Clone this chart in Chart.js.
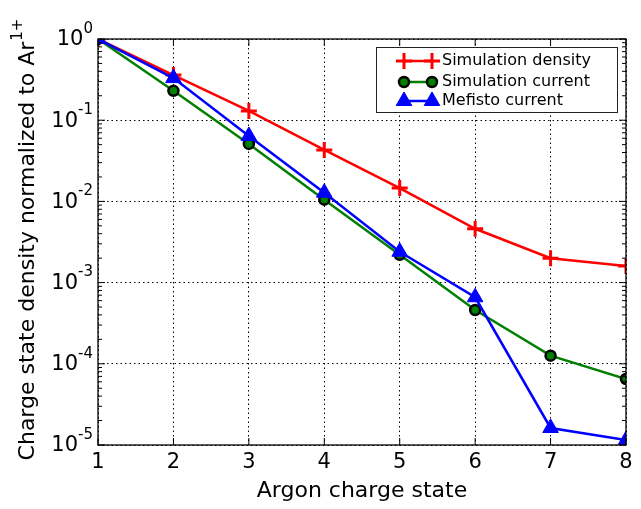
<!DOCTYPE html>
<html>
<head>
<meta charset="utf-8">
<script src="https://cdn.jsdelivr.net/npm/chart.js@4"></script>
<style>
  html, body { margin: 0; padding: 0; background: #fff; }
  #wrap { width: 641px; height: 509px; }
</style>
</head>
<body>
<div id="wrap"><canvas id="chart" width="641" height="509"></canvas></div>
<script>
// Données
const chargeStates = [1, 2, 3, 4, 5, 6, 7, 8];
const simDensity = [1, 0.36, 0.13, 0.043, 0.0146, 0.0046, 0.0020, 0.0016];
const simCurrent = [1, 0.23, 0.051, 0.0105, 0.0022, 0.00046, 0.000126, 0.000065];
const mefistoCurrent = [1, 0.33, 0.064, 0.0128, 0.0024, 0.00066, 0.0000162, 0.0000115];
const yDecades = [-5, -4, -3, -2, -1, 0];
const seriesNames = ['Simulation density', 'Simulation current', 'Mefisto current'];
const yTitle = 'Charge state density normalized to Ar';
const yTitleSup = '1+';

const FONT = "'DejaVu Sans', sans-serif";

function decadeOf(v) {
    const e = Math.round(Math.log10(v));
    return Math.abs(Math.pow(10, e) - v) < Math.pow(10, e) * 1e-6 ? e : null;
}

/**
 * Cadre noir et graduations intérieures (style matplotlib)
 */
const framePlugin = {
    id: 'frame',
    afterDraw(chart) {
        const { ctx, chartArea: a, scales } = chart;
        ctx.save();
        ctx.strokeStyle = '#000';
        ctx.lineWidth = 1.3;
        ctx.strokeRect(a.left, a.top, a.right - a.left, a.bottom - a.top);

        ctx.lineWidth = 1;
        ctx.beginPath();
        // graduations x
        chargeStates.forEach(v => {
            const x = scales.x.getPixelForValue(v);
            ctx.moveTo(x, a.bottom); ctx.lineTo(x, a.bottom - 7);
            ctx.moveTo(x, a.top); ctx.lineTo(x, a.top + 7);
        });
        // graduations y (majeures et mineures)
        yDecades.forEach(e => {
            for (let m = 1; m <= 9; m++) {
                const v = m * Math.pow(10, e);
                if (v > 1) break;
                const y = scales.y.getPixelForValue(v);
                const len = m === 1 ? 7 : 4;
                ctx.moveTo(a.left, y); ctx.lineTo(a.left + len, y);
                ctx.moveTo(a.right, y); ctx.lineTo(a.right - len, y);
            }
        });
        ctx.stroke();
        ctx.restore();
    }
};

/**
 * Étiquettes 10^n et titre de l'axe y avec vrais exposants
 */
const yLabelsPlugin = {
    id: 'yLabels',
    afterDraw(chart) {
        const { ctx, chartArea: a, scales } = chart;
        ctx.save();
        ctx.fillStyle = '#000';
        ctx.textBaseline = 'middle';
        yDecades.forEach(e => {
            const y = scales.y.getPixelForValue(Math.pow(10, e));
            const exp = String(e);
            ctx.font = '15px ' + FONT;
            const expW = ctx.measureText(exp).width;
            const right = a.left - 5;
            ctx.textAlign = 'left';
            ctx.fillText(exp, right - expW, y - 10);
            ctx.font = '21px ' + FONT;
            ctx.textAlign = 'right';
            ctx.fillText('10', right - expW, y + 1);
        });

        // titre vertical
        ctx.translate(28, (a.top + a.bottom) / 2 - 2);
        ctx.rotate(-Math.PI / 2);
        ctx.font = '22px ' + FONT;
        const mainW = ctx.measureText(yTitle).width;
        ctx.font = '15px ' + FONT;
        const supW = ctx.measureText(yTitleSup).width;
        const start = -(mainW + supW) / 2;
        ctx.textAlign = 'left';
        ctx.font = '22px ' + FONT;
        ctx.fillText(yTitle, start, 0);
        ctx.font = '15px ' + FONT;
        ctx.fillText(yTitleSup, start + mainW + 1, -10);
        ctx.restore();
    }
};

function drawMarker(ctx, ds, x, y) {
    ctx.save();
    ctx.fillStyle = ds.pointBackgroundColor;
    ctx.strokeStyle = ds.pointBorderColor;
    ctx.lineWidth = ds.pointBorderWidth;
    Chart.helpers.drawPoint(ctx, {
        pointStyle: ds.pointStyle,
        radius: ds.pointRadius,
        borderWidth: ds.pointBorderWidth,
        rotation: 0
    }, x, y);
    ctx.restore();
}

/**
 * Légende dessinée à la main (ligne + deux marqueurs)
 */
const legendPlugin = {
    id: 'mplLegend',
    afterDraw(chart) {
        const { ctx } = chart;
        const box = { x: 376, y: 47, w: 241, h: 65 };
        ctx.save();
        ctx.fillStyle = '#fff';
        ctx.fillRect(box.x, box.y, box.w, box.h);
        ctx.strokeStyle = '#222';
        ctx.lineWidth = 1;
        ctx.strokeRect(box.x + 0.5, box.y + 0.5, box.w, box.h);

        const rows = [61, 82, 101];
        const x1 = 404, x2 = 432;
        const datasets = chart.data.datasets;
        const order = [2, 1, 0]; // densité, courant sim, mefisto
        rows.forEach((y, i) => {
            const ds = datasets[order[i]];
            ctx.strokeStyle = ds.borderColor;
            ctx.lineWidth = ds.borderWidth;
            ctx.beginPath();
            ctx.moveTo(x1, y); ctx.lineTo(x2, y);
            ctx.stroke();
            drawMarker(ctx, ds, x1, y);
            drawMarker(ctx, ds, x2, y);
            ctx.fillStyle = '#000';
            ctx.font = '16px ' + FONT;
            ctx.textAlign = 'left';
            ctx.textBaseline = 'middle';
            ctx.fillText(seriesNames[i], 442, y);
        });
        ctx.restore();
    }
};

const ctx = document.getElementById('chart');

new Chart(ctx, {
    type: 'line',
    data: {
        datasets: [
            {
                label: seriesNames[2],
                data: chargeStates.map((c, i) => ({ x: c, y: mefistoCurrent[i] })),
                borderColor: '#0000ff',
                borderWidth: 2.5,
                pointStyle: 'triangle',
                pointRadius: 9,
                pointBackgroundColor: '#0000ff',
                pointBorderColor: '#0000ff',
                pointBorderWidth: 1,
                order: 1,
                clip: 0
            },
            {
                label: seriesNames[1],
                data: chargeStates.map((c, i) => ({ x: c, y: simCurrent[i] })),
                borderColor: '#008000',
                borderWidth: 2.5,
                pointStyle: 'circle',
                pointRadius: 5,
                pointBackgroundColor: '#008000',
                pointBorderColor: '#000',
                pointBorderWidth: 2.5,
                order: 2,
                clip: 0
            },
            {
                label: seriesNames[0],
                data: chargeStates.map((c, i) => ({ x: c, y: simDensity[i] })),
                borderColor: '#ff0000',
                borderWidth: 2.5,
                pointStyle: 'cross',
                pointRadius: 8,
                pointBackgroundColor: '#ff0000',
                pointBorderColor: '#ff0000',
                pointBorderWidth: 3,
                order: 3,
                clip: 0
            }
        ]
    },
    options: {
        responsive: false,
        animation: false,
        layout: { padding: { top: 39, right: 15, left: 0, bottom: 0 } },
        plugins: {
            legend: { display: false },
            tooltip: { enabled: false }
        },
        elements: { line: { tension: 0 } },
        scales: {
            x: {
                type: 'linear',
                min: 1,
                max: 8,
                afterFit(scale) { scale.height = 64; },
                ticks: {
                    stepSize: 1,
                    padding: 5,
                    color: '#000',
                    font: { family: FONT, size: 21 }
                },
                grid: { color: '#000', lineWidth: 1, drawTicks: false },
                border: { display: false, dash: [1.5, 3] },
                title: {
                    display: true,
                    text: 'Argon charge state',
                    color: '#000',
                    font: { family: FONT, size: 22 },
                    padding: { top: 0, bottom: 5 }
                }
            },
            y: {
                type: 'logarithmic',
                min: 1e-5,
                max: 1,
                afterFit(scale) { scale.width = 98; },
                ticks: {
                    autoSkip: false,
                    display: true,
                    color: 'rgba(0,0,0,0)',
                    font: { family: FONT, size: 19 },
                    callback(value) {
                        return decadeOf(value) === null ? '' : ' ';
                    }
                },
                grid: {
                    drawTicks: false,
                    lineWidth: 1,
                    color(c) {
                        return c.tick && decadeOf(c.tick.value) !== null ? '#000' : 'rgba(0,0,0,0)';
                    }
                },
                border: { display: false, dash: [1.5, 3] },
                title: { display: false }
            }
        }
    },
    plugins: [framePlugin, yLabelsPlugin, legendPlugin]
});
</script>
</body>
</html>
